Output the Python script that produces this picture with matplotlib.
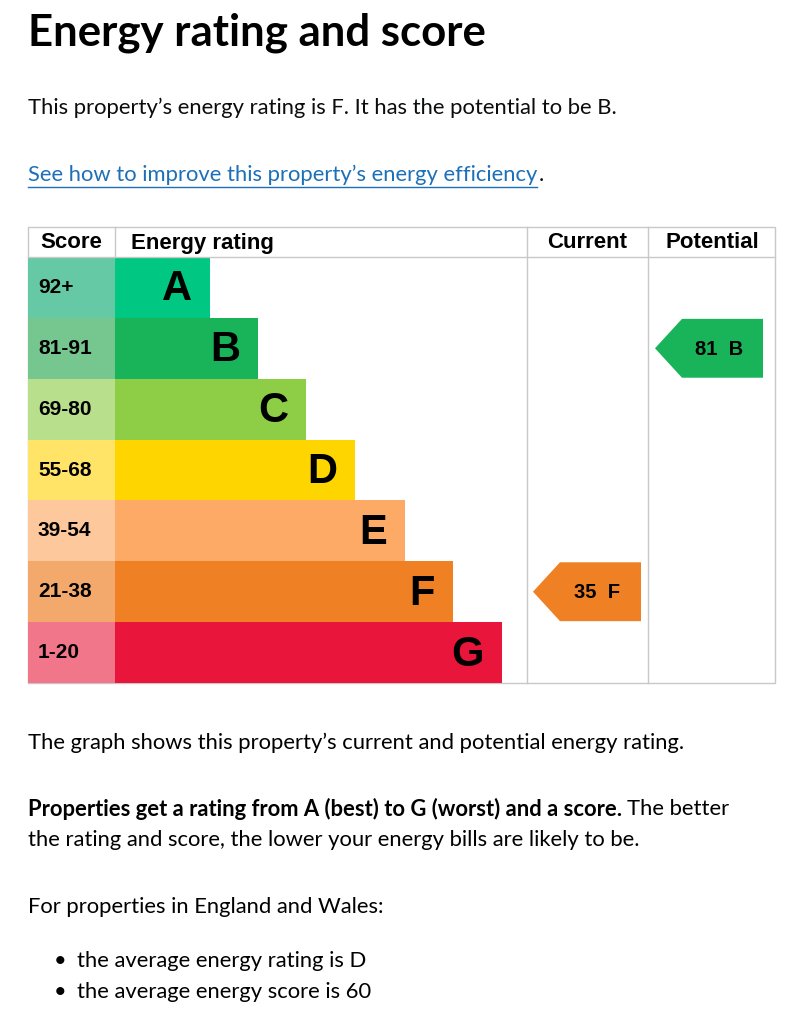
import matplotlib
matplotlib.use("Agg")
import matplotlib.pyplot as plt
from matplotlib.patches import Polygon, Rectangle

bands = ["A", "B", "C", "D", "E", "F", "G"]
score_ranges = ["92+", "81-91", "69-80", "55-68", "39-54", "21-38", "1-20"]
band_colors = ["#00c781", "#19b459", "#8dce46", "#ffd500", "#fcaa65", "#ef8023", "#e9153b"]
score_colors = ["#66c9a5", "#75c78f", "#b8df8c", "#ffe467", "#fdc99c", "#f4a96c", "#f27689"]
bar_lengths = [95, 143, 191, 240, 290, 338, 387]  # relative bar lengths
current_score, current_band = 35, "F"
potential_score, potential_band = 81, "B"

W, H = 802, 1024
fig = plt.figure(figsize=(W/100, H/100), dpi=100)
ax = fig.add_axes([0, 0, 1, 1])
ax.set_xlim(0, W); ax.set_ylim(H, 0); ax.axis("off")
fig.canvas.draw()
rend = fig.canvas.get_renderer()

def right_edge(t):
    bb = t.get_window_extent(renderer=rend)
    return ax.transData.inverted().transform((bb.x1, bb.y0))[0]

body = "Lato"
bs = 15.8
ax.text(28, 33, "Energy rating and score", fontsize=31.5, fontweight="bold", family=body, va="center")
ax.text(28, 108, "This property\u2019s energy rating is F. It has the potential to be B.", fontsize=bs, family=body, va="center", color="#0b0c0c")
t = ax.text(28, 175, "See how to improve this property\u2019s energy efficiency", fontsize=bs, family=body, va="center", color="#1d70b8")
xe = right_edge(t)
ax.plot([28, xe], [187, 187], color="#1d70b8", lw=1)
ax.text(xe + 1, 175, ".", fontsize=bs, family=body, va="center", color="#0b0c0c")

x0, x1, xc, xp, x2 = 28, 115, 527, 648, 775
ytop, yh = 227, 257
rowh = (683 - 257) / 7
lc = "#c8c8c8"
ax.add_patch(Rectangle((x0, ytop), x2-x0, 683-ytop, fill=False, ec=lc, lw=1))
ax.plot([x0, x2], [yh, yh], color=lc, lw=1)
for xv in (x1, xc, xp):
    ax.plot([xv, xv], [ytop, yh], color=lc, lw=1)
for xv in (xc, xp):
    ax.plot([xv, xv], [yh, 683], color=lc, lw=1)
hf = dict(fontsize=16, fontweight="bold", family="Liberation Sans", va="center")
ax.text(71, 243, "Score", ha="center", **hf)
ax.text(131, 243, "Energy rating", ha="left", **hf)
ax.text(587, 243, "Current", ha="center", **hf)
ax.text(712, 243, "Potential", ha="center", **hf)

for i, (b, s, bc, sc, L) in enumerate(zip(bands, score_ranges, band_colors, score_colors, bar_lengths)):
    y = yh + i*rowh
    ax.add_patch(Rectangle((x0, y), x1-x0, rowh, color=sc, lw=0))
    ax.add_patch(Rectangle((x1, y), L, rowh, color=bc, lw=0))
    ax.text(38, y+rowh/2, s, fontsize=15, fontweight="bold", family="Liberation Sans", va="center")
    ax.text(x1+L-18, y+rowh/2+2, b, fontsize=30, fontweight="bold", family="Liberation Sans", va="center", ha="right")

def arrow(xl, xr, band, score):
    i = bands.index(band)
    y = yh + i*rowh
    yt, yb = y+1, y+rowh-1
    ym = (yt+yb)/2
    pts = [(xl, ym), (xl+27, yt), (xr, yt), (xr, yb), (xl+27, yb)]
    ax.add_patch(Polygon(pts, closed=True, color=band_colors[i], lw=0))
    ax.text((xl+xr)/2+10, ym+1, f"{score}  {band}", fontsize=14.5, fontweight="bold", family="Liberation Sans", va="center", ha="center")

arrow(533, 641, current_band, current_score)
arrow(655, 763, potential_band, potential_score)

ax.text(28, 743, "The graph shows this property\u2019s current and potential energy rating.", fontsize=bs, family=body, va="center")
tb = ax.text(28, 809, "Properties get a rating from A (best) to G (worst) and a score.", fontsize=bs, family=body, va="center", fontweight="bold")
ax.text(right_edge(tb) + 5, 809, "The better", fontsize=bs, family=body, va="center")
ax.text(28, 840, "the rating and score, the lower your energy bills are likely to be.", fontsize=bs, family=body, va="center")
ax.text(28, 907, "For properties in England and Wales:", fontsize=bs, family=body, va="center")
ax.text(54, 961, "\u2022", fontsize=bs, family=body, va="center")
ax.text(77, 961, "the average energy rating is D", fontsize=bs, family=body, va="center")
ax.text(54, 992, "\u2022", fontsize=bs, family=body, va="center")
ax.text(77, 992, "the average energy score is 60", fontsize=bs, family=body, va="center")

fig.savefig("out.png", dpi=100, facecolor="white")
